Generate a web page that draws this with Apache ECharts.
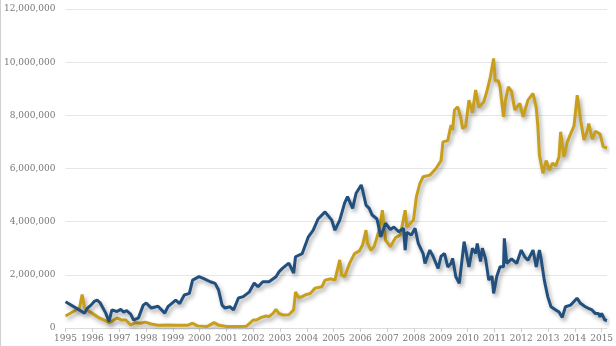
<!DOCTYPE html>
<html><head><meta charset="utf-8">
<script src="https://cdn.jsdelivr.net/npm/echarts@6/dist/echarts.min.js"></script>
<style>html,body{margin:0;padding:0;background:#fff;}#c{width:616px;height:346px;box-sizing:border-box;border-left:1px solid #d0d0d0;}</style>
</head><body><div id="c"></div>
<script>
const yearTicks = [1995,1996,1997,1998,1999,2000,2001,2002,2003,2004,2005,2006,2007,2008,2009,2010,2011,2012,2013,2014,2015];
const yTicks = [0,2000000,4000000,6000000,8000000,10000000,12000000];
// values in millions, x in decimal years
const blueYears = [1995.0,1995.71,1995.82,1995.95,1996.07,1996.18,1996.29,1996.5,1996.62,1996.73,1996.92,1997.06,1997.17,1997.28,1997.43,1997.54,1997.72,1997.9,1998.01,1998.2,1998.45,1998.7,1998.82,1999.11,1999.26,1999.43,1999.62,1999.74,1999.98,2000.16,2000.4,2000.58,2000.71,2000.84,2000.95,2001.13,2001.27,2001.45,2001.63,2001.86,2002.04,2002.18,2002.36,2002.59,2002.85,2002.97,2003.1,2003.33,2003.51,2003.58,2003.83,2004.06,2004.24,2004.42,2004.68,2004.93,2005.05,2005.23,2005.41,2005.52,2005.71,2005.84,2006.03,2006.08,2006.21,2006.33,2006.44,2006.62,2006.76,2006.94,2007.12,2007.25,2007.43,2007.61,2007.67,2007.73,2007.9,2008.04,2008.16,2008.34,2008.41,2008.59,2008.71,2008.9,2009.01,2009.14,2009.26,2009.38,2009.44,2009.56,2009.69,2009.75,2009.87,2009.93,2010.05,2010.18,2010.3,2010.36,2010.48,2010.55,2010.67,2010.79,2010.91,2010.97,2011.09,2011.21,2011.34,2011.37,2011.46,2011.64,2011.83,2012.0,2012.13,2012.25,2012.44,2012.56,2012.68,2012.74,2012.86,2012.99,2013.11,2013.29,2013.41,2013.53,2013.65,2013.84,2013.96,2014.08,2014.21,2014.39,2014.51,2014.64,2014.76,2014.88,2014.94,2015.0,2015.12,2015.2];
const blueValues = [0.99,0.56,0.75,0.86,1.0,1.05,0.95,0.56,0.24,0.68,0.62,0.7,0.6,0.65,0.52,0.3,0.38,0.86,0.94,0.75,0.82,0.56,0.8,1.05,0.92,1.24,1.3,1.8,1.93,1.86,1.74,1.68,1.43,0.86,0.75,0.8,0.68,1.13,1.18,1.36,1.69,1.55,1.74,1.74,1.93,2.12,2.25,2.44,2.07,2.68,2.8,3.43,3.68,4.1,4.37,4.06,3.68,4.06,4.7,4.94,4.5,5.07,5.38,5.2,4.62,4.5,4.25,4.1,3.43,3.94,3.7,3.8,3.62,3.75,2.93,3.6,3.5,3.75,3.18,2.8,2.43,2.93,2.7,2.24,2.7,2.8,2.3,2.43,2.62,1.93,1.68,2.2,3.25,3.18,2.3,3.0,2.8,3.18,2.5,3.0,2.6,1.8,1.95,1.3,1.95,2.3,2.3,3.37,2.43,2.6,2.43,2.93,2.68,2.55,2.93,2.3,2.93,2.62,1.8,1.18,0.8,0.68,0.6,0.4,0.8,0.86,0.99,1.12,0.93,0.8,0.74,0.68,0.55,0.55,0.42,0.55,0.3,0.28];
const goldYears = [1995.0,1995.52,1995.62,1995.71,1995.89,1996.0,1996.26,1996.44,1996.62,1996.77,1996.92,1997.1,1997.25,1997.43,1997.61,1997.79,1997.98,1998.2,1998.45,1998.82,1999.19,1999.55,1999.74,1999.92,2000.29,2000.54,2000.73,2001.02,2001.39,2001.75,2002.0,2002.12,2002.3,2002.48,2002.59,2002.74,2002.85,2002.96,2003.1,2003.33,2003.51,2003.58,2003.69,2003.83,2003.95,2004.13,2004.31,2004.56,2004.68,2004.9,2005.05,2005.23,2005.3,2005.41,2005.6,2005.78,2005.96,2006.08,2006.21,2006.26,2006.39,2006.51,2006.7,2006.82,2006.94,2007.12,2007.31,2007.49,2007.67,2007.73,2007.98,2008.09,2008.22,2008.34,2008.59,2008.82,2009.01,2009.08,2009.26,2009.38,2009.44,2009.51,2009.63,2009.75,2009.81,2009.93,2010.05,2010.18,2010.3,2010.42,2010.6,2010.73,2010.85,2010.97,2011.03,2011.15,2011.21,2011.34,2011.4,2011.52,2011.64,2011.76,2011.95,2012.07,2012.25,2012.44,2012.56,2012.62,2012.68,2012.81,2012.93,2013.05,2013.17,2013.29,2013.41,2013.47,2013.59,2013.72,2013.85,2013.97,2014.09,2014.22,2014.34,2014.46,2014.52,2014.65,2014.77,2014.94,2015.06,2015.2];
const goldValues = [0.45,0.75,1.26,0.75,0.62,0.55,0.38,0.3,0.2,0.28,0.38,0.3,0.3,0.11,0.2,0.18,0.22,0.15,0.1,0.11,0.1,0.1,0.18,0.08,0.06,0.2,0.1,0.06,0.06,0.07,0.3,0.3,0.4,0.45,0.43,0.55,0.7,0.55,0.49,0.5,0.68,1.36,1.15,1.18,1.25,1.3,1.5,1.55,1.8,1.85,1.8,2.56,2.0,1.93,2.44,2.8,2.9,3.12,3.68,3.2,2.93,3.06,3.68,4.43,3.3,3.06,3.4,3.5,4.43,3.8,4.06,4.94,5.44,5.69,5.75,6.0,6.3,7.0,7.05,7.63,7.45,8.2,8.32,7.9,7.5,7.6,8.57,8.1,8.95,8.3,8.5,8.95,9.45,10.14,9.3,9.3,9.07,7.94,8.5,9.07,8.9,8.2,8.45,7.94,8.57,8.82,8.3,7.6,6.5,5.82,6.3,5.94,6.2,6.1,6.44,7.38,6.44,7.0,7.32,7.6,8.76,7.8,7.07,7.4,7.69,7.1,7.4,7.3,6.82,6.77];

const toPairs = (xs, vs) => xs.map((x, i) => [x, vs[i] * 1000000]);
const fmt = v => String(v).replace(/\B(?=(\d{3})+(?!\d))/g, ',');
const font = '"DejaVu Serif", "Liberation Serif", serif';
const shadow = {shadowColor: 'rgba(0,0,0,0.35)', shadowBlur: 4, shadowOffsetX: 2, shadowOffsetY: 3};

const chart = echarts.init(document.getElementById('c'), null, {renderer: 'canvas'});
chart.setOption({
  animation: false,
  grid: {left: 55, right: 9, top: 9, bottom: 18, containLabel: false},
  xAxis: {
    type: 'value', min: 1995, max: 2015.2,
    axisLine: {show: true, lineStyle: {color: '#dcdcdc'}},
    axisTick: {show: true, length: 4, customValues: yearTicks, lineStyle: {color: '#cfcfcf'}},
    axisLabel: {customValues: yearTicks, color: '#777', fontFamily: font, fontSize: 9, margin: 6, formatter: v => String(v)},
    splitLine: {show: false}
  },
  yAxis: {
    type: 'value', min: 0, max: 12000000, interval: 2000000,
    axisLine: {show: false}, axisTick: {show: false},
    axisLabel: {color: '#777', fontFamily: font, fontSize: 9, margin: 10, formatter: v => fmt(v)},
    splitLine: {lineStyle: {color: '#e6e6e6'}}
  },
  series: [
    {type: 'line', data: toPairs(goldYears, goldValues), showSymbol: false, symbol: 'none',
     lineStyle: Object.assign({color: '#c89f1c', width: 3}, shadow), itemStyle: {color: '#c89f1c'}},
    {type: 'line', data: toPairs(blueYears, blueValues), showSymbol: false, symbol: 'none',
     lineStyle: Object.assign({color: '#22507e', width: 3}, shadow), itemStyle: {color: '#22507e'}}
  ]
});
</script></body></html>
